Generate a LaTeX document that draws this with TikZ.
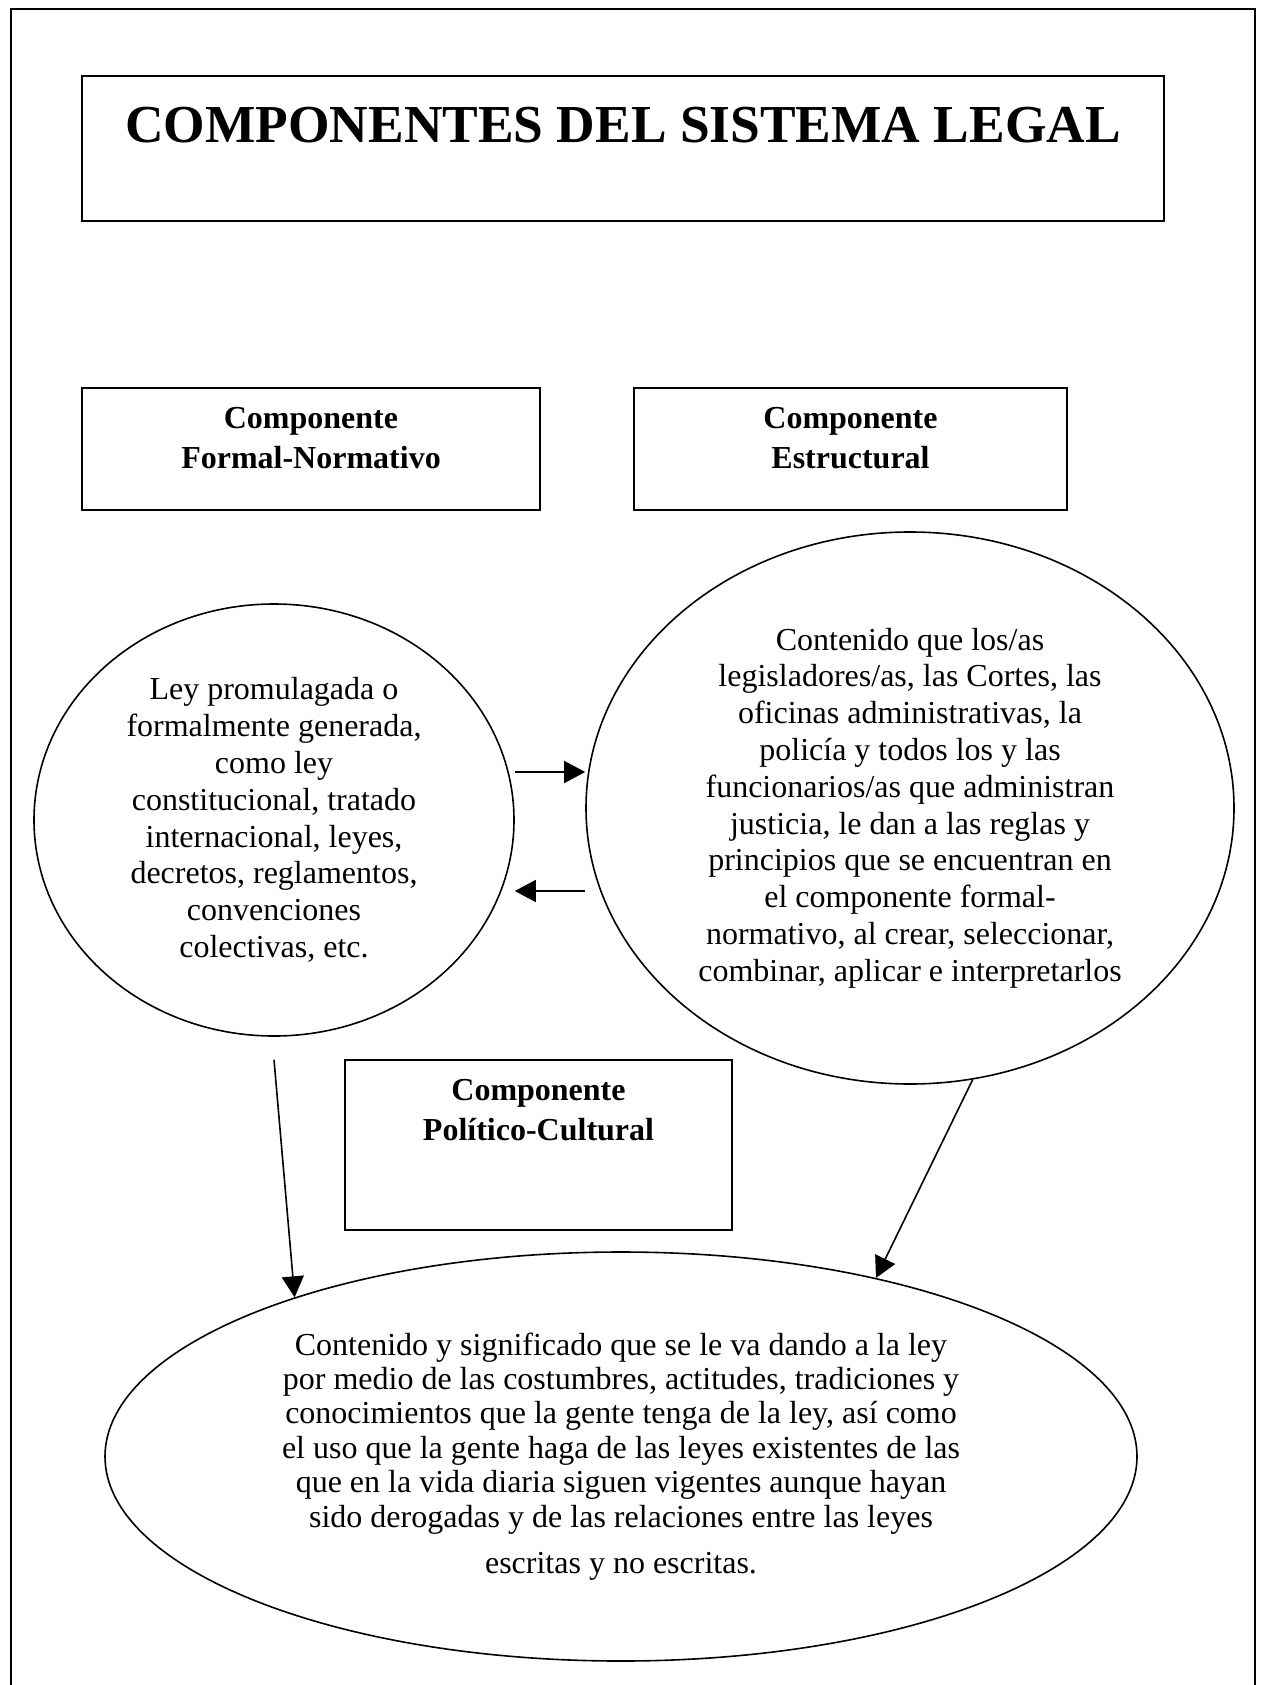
\documentclass[tikz,border=0pt]{standalone}
\usepackage{fontspec}
\setmainfont{Liberation Serif}
\usetikzlibrary{
  arrows.meta,
  positioning,
  shapes.geometric,
}

\begin{document}
\begin{tikzpicture}[x=0.5pt,y=-0.5pt]%
\tikzstyle{caja}=[rectangle,draw,line width=0.8pt,inner sep=0pt]
\tikzstyle{globo}=[ellipse,draw,line width=0.8pt,inner sep=0pt,align=center,font={\fontsize{16}{18.4}\selectfont}]
\tikzstyle{rotulo}=[inner sep=0pt,align=center,font={\bfseries\fontsize{16}{20}\selectfont}]
\tikzstyle{flecha}=[line width=0.8pt,-{Triangle[length=10.5pt,width=11pt]}]
\useasboundingbox (0,0) rectangle (1261,1685);
\draw[line width=0.8pt] (11,1685) -- (11,9) -- (1255,9) -- (1255,1685);
% titulo
\node[caja,anchor=base,minimum width=541pt,text height=33.5pt,text depth=39pt,
  font={\bfseries\fontsize{26.7}{30}\selectfont}] (titulo) at (623,143) {COMPONENTES DEL SISTEMA LEGAL};
% componentes
\node[caja,minimum width=229pt,minimum height=61pt] (fn) at (311,449) {};
\node[rotulo,below=9.8pt of fn.north] (fntxt) {Componente\\Formal-Normativo};
\node[caja,minimum width=216.5pt,minimum height=61pt] (es) at (850.5,449) {};
\node[rotulo,below=9.8pt of es.north] (estxt) {Componente\\Estructural};
\node[caja,minimum width=193.5pt,minimum height=85pt] (pc) at (538.5,1145) {};
\node[rotulo,below=10pt of pc.north] (pctxt) {Componente\\Político-Cultural};
% contenidos
\node[globo,minimum width=240pt,minimum height=216pt] (ley) at (274,820)
  {Ley promulagada o\\formalmente generada,\\como ley\\constitucional, tratado\\internacional, leyes,\\decretos, reglamentos,\\convenciones\\colectivas, etc.};
\node[globo,minimum width=324pt,minimum height=276pt] (est) at (910,808)
  {Contenido que los/as\\legisladores/as, las Cortes, las\\oficinas administrativas, la\\policía y todos los y las\\funcionarios/as que administran\\justicia, le dan a las reglas y\\principios que se encuentran en\\el componente formal-\\normativo, al crear, seleccionar,\\combinar, aplicar e interpretarlos};
\node[globo,minimum width=516pt,minimum height=204.5pt,font={\fontsize{16}{17.2}\selectfont}] (cult) at (621,1456.5)
  {Contenido y significado que se le va dando a la ley\\por medio de las costumbres, actitudes, tradiciones y\\conocimientos que la gente tenga de la ley, así como\\el uso que la gente haga de las leyes existentes de las\\que en la vida diaria siguen vigentes aunque hayan\\sido derogadas y de las relaciones entre las leyes\\[6pt]escritas y no escritas.};
% flechas
\draw[flecha] (ley.east |- 0,772) -- (est.west |- 0,772);
\draw[flecha] (est.west |- 0,891) -- (ley.east |- 0,891);
\draw[flecha] ([yshift=-11.5pt]ley.south) -- (cult.154);
\draw[flecha] (est.-77) -- (cult.35);
\end{tikzpicture}
\end{document}
